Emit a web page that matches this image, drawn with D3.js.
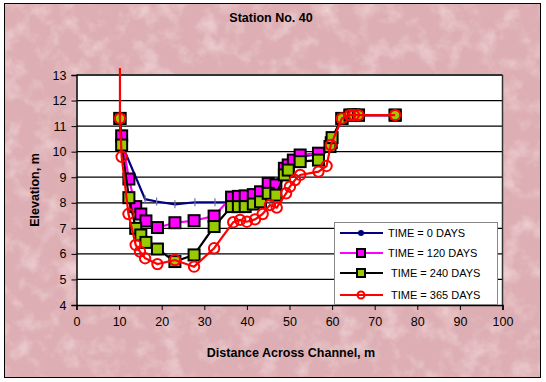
<!DOCTYPE html>
<html><head><meta charset="utf-8">
<script src="https://cdn.jsdelivr.net/npm/d3@7"></script>
<style>
html,body{margin:0;padding:0;background:#fff;}
svg{display:block;font-family:Arial,"Liberation Sans",sans-serif;}
</style></head>
<body>
<svg id="c" width="546" height="382"></svg>
<script>
const title = "Station No. 40";
const xLabel = "Distance Across Channel, m";
const yLabel = "Elevation, m";
const xTicks = [0,10,20,30,40,50,60,70,80,90,100];
const yTicks = [4,5,6,7,8,9,10,11,12,13];
const seriesNames = ["TIME = 0 DAYS","TIME = 120 DAYS","TIME = 240 DAYS","TIME = 365 DAYS"];

const day0 = [[10.2,11.3],[10.6,10.3],[16.1,8.14],[18.8,8.05],[23.1,7.94],[27.8,8.02],[32.5,8.02],[36,8.02],[38,8.1],[41.5,8.2],[45,8.6],[49.7,9.3],[52.5,9.8],[56.8,9.9],[60,10.4],[62.3,11.3],[66.2,11.43],[74.8,11.43]];
const day120 = [[10.2,11.3],[10.6,10.62],[12.3,8.93],[13.9,7.85],[15.1,7.56],[16.3,7.29],[19,7.03],[23.1,7.22],[27.6,7.3],[32.3,7.48],[36.4,8.22],[38,8.25],[39.6,8.27],[41.5,8.32],[43.2,8.43],[45,8.76],[46.8,8.7],[48.8,9.35],[49.7,9.48],[50.9,9.67],[52.5,9.87],[56.8,9.94],[59.8,10.35],[62.3,11.3],[64.2,11.43],[65.1,11.43],[66.2,11.43],[74.8,11.43]];
const day240 = [[10.2,11.3],[10.6,10.26],[12.3,8.2],[13.9,7.0],[15.1,6.74],[16.3,6.45],[19,6.19],[23.1,5.7],[27.6,5.96],[32.3,7.07],[36.4,7.85],[38,7.85],[39.6,7.85],[41.5,7.95],[43.2,8.04],[45,8.37],[46.8,8.3],[48.8,9.09],[49.7,9.28],[52.5,9.61],[56.8,9.67],[59.5,10.2],[60,10.55],[62.3,11.3],[64.2,11.43],[65.1,11.43],[66.2,11.43],[74.8,11.43]];
const day365 = [[10.2,13.27],[10.2,11.3],[10.6,9.8],[12.2,7.56],[13.9,6.35],[14.9,6.09],[16.1,5.83],[19,5.6],[23.1,5.76],[27.6,5.5],[32.3,6.22],[36.8,7.24],[38.4,7.33],[40,7.26],[41.9,7.35],[43.7,7.56],[45.4,7.91],[47,7.81],[49.2,8.37],[50.1,8.63],[51.3,8.89],[52.5,9.09],[56.8,9.22],[58.7,9.44],[59.7,10.26],[62.3,11.3],[64.2,11.43],[65.1,11.43],[66.2,11.43],[74.8,11.43]];

const svg = d3.select("#c");
const L = 76.5, R = 502.5, T = 75, B = 305;
const x = d3.scaleLinear().domain([0,100]).range([L,R]);
const y = d3.scaleLinear().domain([4,13]).range([B,T]);

// background texture
const defs = svg.append("defs");
const f = defs.append("filter").attr("id","tex").attr("x",0).attr("y",0).attr("width","100%").attr("height","100%");
f.append("feTurbulence").attr("type","fractalNoise").attr("baseFrequency","0.05").attr("numOctaves",4).attr("seed",7).attr("result","n");
f.append("feColorMatrix").attr("in","n").attr("type","matrix")
 .attr("values","0 0 0 0 0.96  0 0 0 0 0.84  0 0 0 0 0.85  1.2 0 0 0 -0.55").attr("result","c");
f.append("feComposite").attr("in","c").attr("in2","SourceGraphic").attr("operator","in");
svg.append("rect").attr("x",4).attr("y",3).attr("width",537).attr("height",375).attr("fill","#ddaeb3");
svg.append("rect").attr("x",4).attr("y",3).attr("width",537).attr("height",375).attr("fill","#ddaeb3").attr("filter","url(#tex)");
svg.append("rect").attr("x",4.5).attr("y",3.5).attr("width",536).attr("height",374).attr("fill","none").attr("stroke","#000").attr("stroke-width",1);

// plot area
svg.append("rect").attr("x",L).attr("y",T).attr("width",R-L).attr("height",B-T).attr("fill","#fff");
svg.append("g").selectAll("line").data(yTicks.filter(v=>v>4&&v<13)).join("line")
 .attr("x1",L).attr("x2",R).attr("y1",d=>y(d)).attr("y2",d=>y(d)).attr("stroke","#000").attr("stroke-width",1.2);
svg.append("line").attr("x1",L).attr("x2",R).attr("y1",T).attr("y2",T).attr("stroke","#333").attr("stroke-width",2.2);
svg.append("line").attr("x1",R).attr("x2",R).attr("y1",T).attr("y2",B).attr("stroke","#333").attr("stroke-width",1.5);

// axes
const xa = svg.append("g").attr("transform",`translate(0,${B})`)
 .call(d3.axisBottom(x).tickValues(xTicks).tickSize(5).tickPadding(7).tickFormat(d3.format("d")));
const ya = svg.append("g").attr("transform",`translate(${L},0)`)
 .call(d3.axisLeft(y).tickValues(yTicks).tickSize(5).tickPadding(5).tickFormat(d3.format("d")));
[xa,ya].forEach(a=>{
  a.select(".domain").attr("stroke","#000").attr("stroke-width",1.5);
  a.selectAll(".tick line").attr("stroke","#000").attr("stroke-width",1);
  a.selectAll("text").attr("font-size",12.5).attr("fill","#000").attr("font-family","Arial, 'Liberation Sans', sans-serif");
});

// titles
svg.append("text").attr("x",271).attr("y",22).attr("text-anchor","middle").attr("font-weight","bold").attr("font-size",12.5).text(title);
svg.append("text").attr("x",291).attr("y",357).attr("text-anchor","middle").attr("font-weight","bold").attr("font-size",12.5).text(xLabel);
svg.append("text").attr("transform","translate(39,190) rotate(-90)").attr("text-anchor","middle").attr("font-weight","bold").attr("font-size",12.5).text(yLabel);

// series
defs.append("clipPath").attr("id","clip").append("rect").attr("x",L).attr("y",68).attr("width",R-L).attr("height",B-68);
const g = svg.append("g").attr("clip-path","url(#clip)");
const line = d3.line().x(d=>x(d[0])).y(d=>y(d[1]));

const styles = [
 {data:day0, line:"#000080", mk:"tick"},
 {data:day120, line:"#ff00ff", mk:"sq", fill:"#ff00ff"},
 {data:day240, line:"#000000", mk:"sq", fill:"#99cc00"},
 {data:day365, line:"#ff0000", mk:"circ"}
];
const S = 11;
function drawMarker(sel, st, px, py){
  if(st.mk==="tick"){
    sel.append("line").attr("x1",px).attr("x2",px).attr("y1",py-4).attr("y2",py+4).attr("stroke","#7070b0").attr("stroke-width",1.2);
  } else if(st.mk==="sq"){
    sel.append("rect").attr("x",px-S/2).attr("y",py-S/2).attr("width",S).attr("height",S).attr("fill",st.fill).attr("stroke","#000").attr("stroke-width",2);
  } else {
    sel.append("circle").attr("cx",px).attr("cy",py).attr("r",5.2).attr("fill","none").attr("stroke","#ff0000").attr("stroke-width",2);
  }
}
styles.forEach(st=>{
  g.append("path").datum(st.data).attr("d",line).attr("fill","none").attr("stroke",st.line).attr("stroke-width",2.2);
  st.data.filter(d=>d[1]<=13).forEach(d=>drawMarker(g, st, x(d[0]), y(d[1])));
});

// legend
const lg = svg.append("g");
lg.append("rect").attr("x",334.5).attr("y",222.5).attr("width",163).attr("height",82).attr("fill","#fff").attr("stroke","#888").attr("stroke-width",1);
const rows = [233,253,273,295];
const textX = [388,388,391,391];
styles.forEach((st,i)=>{
  lg.append("line").attr("x1",340).attr("x2",383).attr("y1",rows[i]).attr("y2",rows[i]).attr("stroke",st.line).attr("stroke-width",2.2);
  if(st.mk==="tick"){
    lg.append("circle").attr("cx",361).attr("cy",rows[i]).attr("r",3).attr("fill","#000080");
  } else if(st.mk==="sq"){
    lg.append("rect").attr("x",361-4).attr("y",rows[i]-4).attr("width",8).attr("height",8).attr("fill",st.fill).attr("stroke","#000").attr("stroke-width",2);
  } else {
    lg.append("circle").attr("cx",361).attr("cy",rows[i]).attr("r",3.5).attr("fill","none").attr("stroke","#ff0000").attr("stroke-width",2);
  }
  lg.append("text").attr("x",textX[i]).attr("y",rows[i]+4).attr("font-size",11).attr("fill","#000").text(seriesNames[i]);
});
</script>
</body></html>
